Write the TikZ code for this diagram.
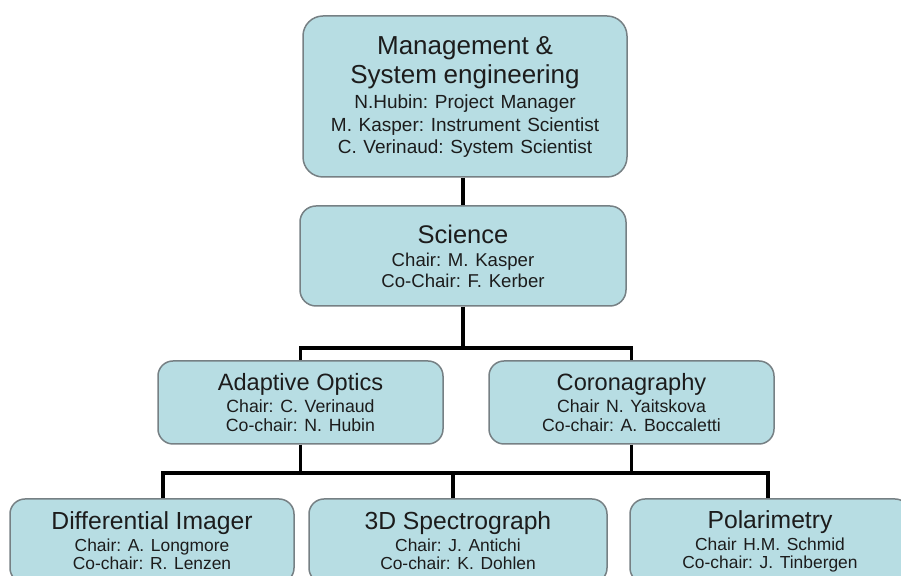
\documentclass[tikz,border=0pt]{standalone}
\usepackage{fontspec}
\setmainfont{Liberation Sans}
\frenchspacing
\usetikzlibrary{calc}
\definecolor{boxfill}{RGB}{183,221,227}
\definecolor{boxline}{RGB}{118,128,132}
\definecolor{txt}{RGB}{28,28,28}
\begin{document}
\frenchspacing
\begin{tikzpicture}[x=0.5pt,y=-0.5pt,
  orgbox/.style={draw=boxline, line width=0.75pt, fill=boxfill, rounded corners=7.5pt,
    align=center, inner sep=0pt, text=txt},
  conn/.style={line width=1.8pt, black, line join=miter}]
\useasboundingbox (0,0) rectangle (901,576);
% boxes
\node[orgbox, rounded corners=10pt, minimum width=162pt, minimum height=80.5pt, text width=162pt] (mgmt) at (465,96.5)
 {\frenchspacing\fontsize{13}{14.5}\selectfont Management \&\par
  System engineering\par
  \fontsize{9.5}{12.5}\selectfont N.Hubin: Project Manager\par
  \fontsize{9.5}{11.5}\selectfont M. Kasper: Instrument Scientist\par
  \fontsize{9.5}{11}\selectfont C. Verinaud: System Scientist\par};
\node[orgbox, rounded corners=8pt, minimum width=163pt, minimum height=50pt, text width=163pt] (sci) at (463,256)
 {\frenchspacing\fontsize{12.75}{11.5}\selectfont Science\par
  \fontsize{9.3}{11.5}\selectfont Chair: M. Kasper\par
  \fontsize{9.3}{10.5}\selectfont Co-Chair: F. Kerber\par};
\node[orgbox, minimum width=142.5pt, minimum height=41.5pt, text width=142.5pt] (ao) at (300.5,402.5)
 {\frenchspacing\fontsize{11.8}{11}\selectfont Adaptive Optics\par
  \fontsize{8.85}{11}\selectfont Chair: C. Verinaud\par
  \fontsize{8.85}{9.75}\selectfont Co-chair: N. Hubin\par};
\node[orgbox, minimum width=142.5pt, minimum height=41.5pt, text width=142.5pt] (coro) at (631.5,402.5)
 {\frenchspacing\fontsize{11.8}{11}\selectfont Coronagraphy\par
  \fontsize{8.85}{11}\selectfont Chair N. Yaitskova\par
  \fontsize{8.85}{9.75}\selectfont Co-chair: A. Boccaletti\par};
\node[orgbox, minimum width=142pt, minimum height=42pt, text width=142pt] (diff) at (152,541)
 {\frenchspacing\fontsize{12.35}{11}\selectfont Differential Imager\par
  \fontsize{8.7}{11}\selectfont Chair: A. Longmore\par
  \fontsize{8.7}{9}\selectfont Co-chair: R. Lenzen\par};
\node[orgbox, minimum width=149pt, minimum height=42pt, text width=149pt] (spec) at (458,541)
 {\frenchspacing\fontsize{12.35}{11}\selectfont 3D Spectrograph\par
  \fontsize{8.7}{11}\selectfont Chair: J. Antichi\par
  \fontsize{8.7}{9}\selectfont Co-chair: K. Dohlen\par};
\node[orgbox, minimum width=140pt, minimum height=42pt, text width=140pt] (pol) at (770,541)
 {\frenchspacing\fontsize{12.35}{11}\selectfont Polarimetry\par
  \fontsize{8.7}{11}\selectfont Chair H.M. Schmid\par
  \fontsize{8.7}{9}\selectfont Co-chair: J. Tinbergen\par};
% bus coordinates
\coordinate (b1) at (0,348);
\coordinate (b2) at (0,473);
% connectors
\draw[conn] (mgmt.south -| sci.north) -- (sci.north);
\draw[conn] (sci.south) -- (sci.south |- b1);
\draw[conn] (ao.north) -- (ao.north |- b1) -- (coro.north |- b1) -- (coro.north);
\draw[conn] (ao.south) -- (ao.south |- b2);
\draw[conn] (coro.south) -- (coro.south |- b2);
\draw[conn] ([xshift=5.5pt]diff.north) -- ([xshift=5.5pt]diff.north |- b2)
  -- ([xshift=-1pt]pol.north |- b2) -- ([xshift=-1pt]pol.north);
\draw[conn] ([xshift=-2.5pt]spec.north) -- ([xshift=-2.5pt]spec.north |- b2);
\end{tikzpicture}
\end{document}
